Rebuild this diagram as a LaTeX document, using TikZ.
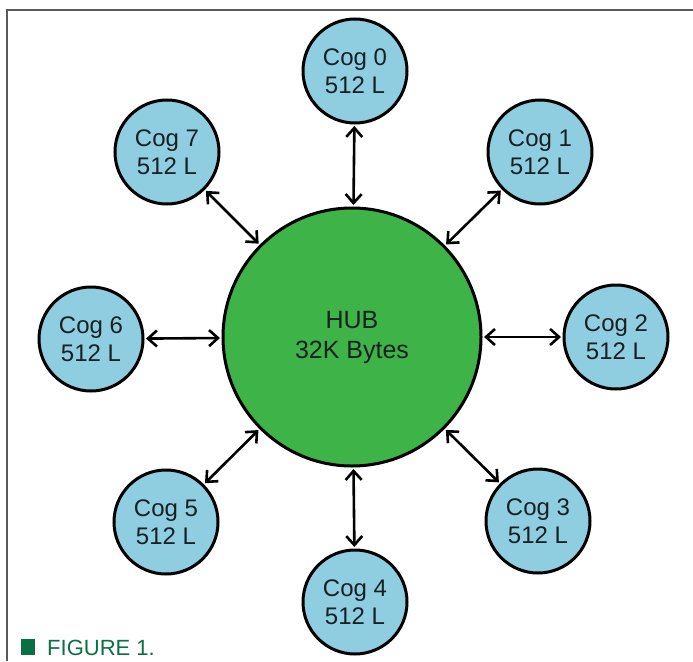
\documentclass[tikz,border=0pt]{standalone}
\usepackage{fontspec}
\setmainfont{Liberation Sans}
\usetikzlibrary{arrows.meta}
\definecolor{cogblue}{RGB}{142,206,224}
\definecolor{hubgreen}{RGB}{62,180,72}
\definecolor{txtdark}{RGB}{24,32,36}
\definecolor{figgreen}{RGB}{10,112,68}
\definecolor{framegray}{RGB}{90,90,90}
\begin{document}
\begin{tikzpicture}[x=1pt,y=-1pt,
  cog/.style={circle, draw=black, line width=3pt, fill=cogblue, minimum size=104pt, inner sep=0pt,
    align=center, font=\fontsize{24}{28}\selectfont, text=txtdark},
  hub/.style={circle, draw=black, line width=3pt, fill=hubgreen, minimum size=258pt, inner sep=0pt,
    align=center, font=\fontsize{25}{30}\selectfont, text=txtdark},
  link/.style={line width=2.6pt, black, {Straight Barb[length=9pt,width=16pt,line width=2.6pt]}-{Straight Barb[length=9pt,width=16pt,line width=2.6pt]}, shorten <=1.5pt, shorten >=1.5pt}
]
\useasboundingbox (0,0) rectangle (693,661);
\fill[white] (0,0) rectangle (693,661);
\draw[framegray, line width=2pt] (7,661) -- (7,10) -- (693,10);

\node[hub] (hub) at (352,337) {HUB\\32K Bytes};
\node[cog] (c0) at (355,71) {Cog 0\\512 L};
\node[cog] (c1) at (540,152) {Cog 1\\512 L};
\node[cog] (c2) at (616,337) {Cog 2\\512 L};
\node[cog] (c3) at (538,521) {Cog 3\\512 L};
\node[cog] (c4) at (355,602) {Cog 4\\512 L};
\node[cog] (c5) at (166,522) {Cog 5\\512 L};
\node[cog] (c6) at (91,339) {Cog 6\\512 L};
\node[cog] (c7) at (167,152) {Cog 7\\512 L};

\foreach \c in {c0,c1,c2,c3,c4,c5,c6,c7}
  \draw[link] (hub) -- (\c);

\node[anchor=base west, inner sep=0pt, font=\fontsize{22}{26}\selectfont, text=figgreen] (fig) at (47,655) {FIGURE 1.};
\fill[figgreen] (21,639) rectangle (35,655);
\end{tikzpicture}
\end{document}
